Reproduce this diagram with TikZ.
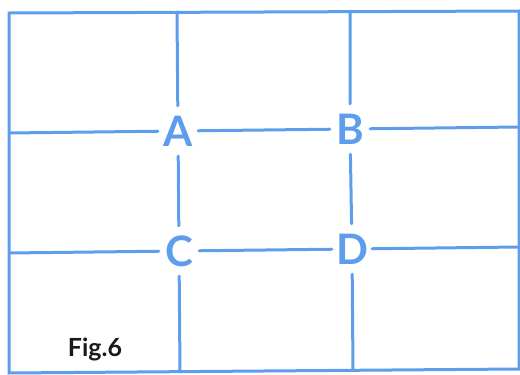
\documentclass[tikz,border=0pt]{standalone}
\usepackage{fontspec}
\setsansfont{Lato}
\usepackage{tikz}
\usetikzlibrary{positioning}
\definecolor{GridBlue}{HTML}{5E9DEB}
\definecolor{InkBlack}{HTML}{1A1A1A}
\tikzset{
  gridline/.style={GridBlue,line width=3pt,line cap=round},
  cornerlabel/.style={text=GridBlue,font=\sffamily\bfseries\fontsize{42}{42}\selectfont,minimum width=40pt,minimum height=50pt,inner sep=0pt},
  figlabel/.style={text=InkBlack,font=\sffamily\bfseries\fontsize{25}{25}\selectfont,inner sep=0pt},
}

\begin{document}
\begin{tikzpicture}[x=1pt,y=-1pt]
  \useasboundingbox (0,0) rectangle (520,375);
  \draw[gridline,line cap=butt,line join=miter] (9,13) -- (519,11) -- (519,369) -- (9,373) -- cycle;
  \node[cornerlabel] (A) at (178,131) {A};
  \node[cornerlabel] (B) at (350,129) {B};
  \node[cornerlabel] (C) at (179,251) {C};
  \node[cornerlabel] (D) at (352,249) {D};
  \coordinate (aTop) at (177,12);
  \coordinate (bTop) at (350,12);
  \coordinate (cBot) at (180,372);
  \coordinate (dBot) at (353,370);
  \coordinate (upLeft) at (9,133);
  \coordinate (upRight) at (519,127);
  \coordinate (lowLeft) at (9,253);
  \coordinate (lowRight) at (519,247);
  \draw[gridline] (aTop) -- (A) -- (C) -- (cBot);
  \draw[gridline] (bTop) -- (B) -- (D) -- (dBot);
  \draw[gridline] (upLeft) -- (A) -- (B) -- (upRight);
  \draw[gridline] (lowLeft) -- (C) -- (D) -- (lowRight);
  \node[figlabel] (fig) at (95,349) {Fig.6};
\end{tikzpicture}
\end{document}
